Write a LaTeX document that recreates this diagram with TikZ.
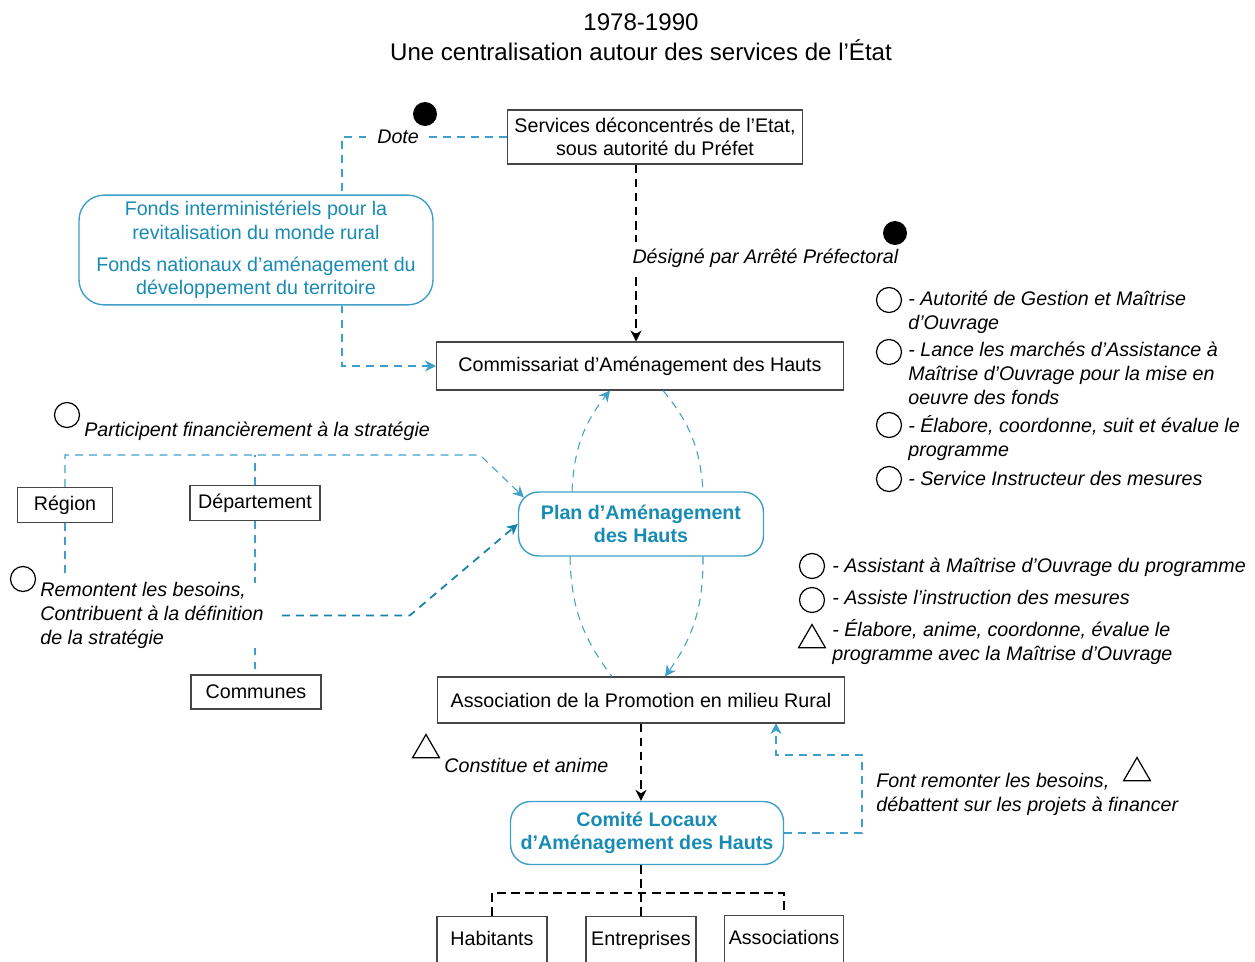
\documentclass[tikz,border=0pt]{standalone}
\usepackage{fontspec}
\setmainfont{Liberation Sans}
\usepackage{tikz}
\usetikzlibrary{shapes.geometric, arrows.meta, positioning, calc}
\definecolor{cBlue}{RGB}{24,139,180}
\definecolor{cLine}{RGB}{62,160,200}
\definecolor{cDeep}{RGB}{20,130,170}
\definecolor{cFrame}{RGB}{70,70,70}
\newcommand{\bodysize}{\fontsize{11.2}{13.4}\selectfont}
\tikzset{
	box/.style   ={rectangle, draw=cFrame, line width=0.6pt, align=center, inner sep=2pt},
	rbox/.style  ={rectangle, rounded corners=0.4cm, draw=cLine, line width=0.8pt, align=center, text=cBlue},
	bflow/.style ={cLine, line width=0.6pt, dash pattern=on 4.5pt off 3.5pt},
	kflow/.style ={black, line width=0.6pt, dash pattern=on 5pt off 3pt},
	arr/.style   ={-{Stealth[length=2.2mm, width=2.2mm, inset=0.7mm]}},
	note/.style  ={font=\bodysize\itshape, align=left, inner sep=0pt, text=black},
	% legend marks
	ring/.style  ={circle, draw=black, line width=0.7pt, minimum size=0.5cm, inner sep=0pt},
	dot/.style   ={circle, fill=black, minimum size=0.48cm, inner sep=0pt},
	tri/.style   ={regular polygon, regular polygon sides=3, draw=black, line width=0.7pt, minimum size=0.62cm, inner sep=0pt},
}
\begin{document}
\begin{tikzpicture}[x=0.02cm, y=-0.02cm, font=\bodysize]
	\useasboundingbox (0,0) rectangle (1255,961);
	\clip (0,0) rectangle (1255,961);
	\node[align=center, font=\fontsize{13.7}{17}\selectfont] (title) at (641,37) {1978-1990\\Une centralisation autour des services de l’État};

	\node[box, minimum width=5.9cm, minimum height=1.08cm] (serv) at (655,137) {Services déconcentrés de l’Etat,\\sous autorité du Préfet};
	\node[rbox, rounded corners=0.5cm, minimum width=7.08cm, minimum height=2.18cm] (fonds) at (256,250) {Fonds interministériels pour la\\revitalisation du monde rural\\[5pt]Fonds nationaux d’aménagement du\\développement du territoire};
	\node[box, minimum width=8.14cm, minimum height=0.96cm] (comm) at (640,366) {Commissariat d’Aménagement des Hauts};
	\node[rbox, font=\bodysize\bfseries, minimum width=4.9cm, minimum height=1.28cm] (plan) at (641,524) {Plan d’Aménagement\\des Hauts};
	\node[box, minimum width=1.9cm, minimum height=0.7cm] (region) at (65,505) {Région};
	\node[box, minimum width=2.6cm, minimum height=0.7cm] (dept) at (255,503) {Département};
	\node[box, minimum width=2.6cm, minimum height=0.68cm] (communes) at (256,692) {Communes};
	\node[box, minimum width=8.16cm, minimum height=0.92cm] (apr) at (641,700) {Association de la Promotion en milieu Rural};
	\node[rbox, font=\bodysize\bfseries, minimum width=5.46cm, minimum height=1.26cm] (comite) at (647,833) {Comité Locaux\\d’Aménagement des Hauts};
	\node[box, anchor=north, minimum width=2.2cm, text height=0.5cm, text depth=0.62cm] (hab) at (492,916) {Habitants};
	\node[box, anchor=north, minimum width=2.2cm, text height=0.5cm, text depth=0.62cm] (ent) at (641,916) {Entreprises};
	\node[box, anchor=north, minimum width=2.38cm, text height=0.5cm, text depth=0.62cm] (asso) at (784,915) {Associations};

	% services de l'Etat
	\coordinate (dv) at (342,195);
	\draw[bflow] (serv.west) -| (dv) node[pos=0.33, fill=white, text=black, font=\bodysize\itshape, inner sep=3pt] (dote) {Dote};
	\draw[bflow, arr] (fonds.south -| dv) |- (comm.west);
	\coordinate (sv) at ([xshift=-0.38cm]serv.south);
	\draw[kflow, arr] (sv) -- (sv |- comm.north) node[pos=0.53, anchor=west, fill=white, font=\bodysize\itshape, inner xsep=0pt, inner ysep=4pt, xshift=-0.08cm] (desig) {Désigné par Arrêté Préfectoral};

	\draw[bflow, arr] ($(plan.north)+(-69,0)$) to[bend left=18] ($(comm.south)+(-30,0)$);
	\draw[bflow] ($(comm.south)+(23,0)$) to[bend left=18] ($(plan.north)+(62,0)$);
	\draw[bflow] ($(plan.south)+(-71,0)$) to[bend right=18] ($(apr.north)+(-29,0)$);
	\draw[bflow, arr] ($(plan.south)+(62,0)$) to[bend left=18] ($(apr.north)+(24,0)$);

	% collectivites
	\node[ring] (o1) at (67,415) {};
	\node[note, anchor=base west] (partic) at (84,436) {Participent financièrement à la stratégie};
	\coordinate (pk) at (480,455);
	\draw[bflow, arr] (region.north) |- (pk) -- ($(plan.north west)+(6,6)$);
	\draw[bflow] (dept.north) -- (dept.north |- pk);
	\coordinate (rfree) at (65,575);
	\draw[bflow] (region.south) -- (rfree);
	\draw[bflow] (dept.south) -- (dept.south |- communes.north);
	\node[ring] (o2) at (23,579) {};
	\node[note, anchor=base west, fill=white] (remont) at (40,644) {Remontent les besoins,\\Contribuent à la définition\\de la stratégie};
	\draw[bflow, cDeep, line width=1pt, arr] ([xshift=0.36cm]remont.east) -- ++(128,0) -- (plan.west);

	% comites locaux
	\node[tri] (t1) at (426,750) {};
	\node[note, anchor=base west] (const) at (444,772) {Constitue et anime};
	\draw[kflow, arr] (apr.south) -- (apr.south |- comite.north);
	\coordinate (fc) at (862,755);
	\coordinate (fa) at (776,723);
	\draw[bflow, arr] (comite.east) -| (fc) -| (fa);
	\node[note, anchor=base west] (fontr) at (876,811) {Font remonter les besoins,\\débattent sur les projets à financer};
	\node[tri] (t2) at (1137,773) {};
	\coordinate (bus) at (642,893);
	\draw[kflow] (ent.north) -- (ent.north |- comite.south);
	\draw[kflow] (hab.north) |- (bus) -| (asso.north);

	% legende
	\node[dot] (d1) at (425,114) {};
	\node[dot] (d2) at (895,233) {};
	\foreach \y [count=\i] in {300,352,425,479}
		\node[ring] (ra\i) at (889,\y) {};
	\node[note, anchor=base west] (la1) at (908,329) {- Autorité de Gestion et Maîtrise\\d’Ouvrage};
	\node[note, anchor=base west] (la2) at (908,404) {- Lance les marchés d’Assistance à\\Maîtrise d’Ouvrage pour la mise en\\oeuvre des fonds};
	\node[note, anchor=base west] (la3) at (908,456) {- Élabore, coordonne, suit et évalue le\\programme};
	\node[note, anchor=base west] (la4) at (908,485) {- Service Instructeur des mesures};
	\node[ring] (rb1) at (812,566) {};
	\node[ring] (rb2) at (812,600) {};
	\node[tri] (tb) at (812,640) {};
	\node[note, anchor=base west] (lb1) at (832,572) {- Assistant à Maîtrise d’Ouvrage du programme};
	\node[note, anchor=base west] (lb2) at (832,604) {- Assiste l’instruction des mesures};
	\node[note, anchor=base west] (lb3) at (832,660) {- Élabore, anime, coordonne, évalue le\\programme avec la Maîtrise d’Ouvrage};
\end{tikzpicture}
\end{document}
